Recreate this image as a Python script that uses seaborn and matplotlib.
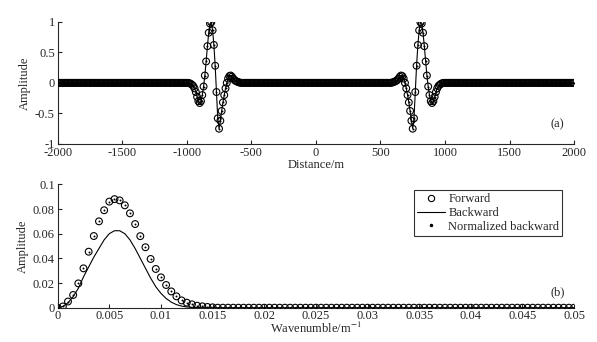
import numpy as np
import pandas as pd
import matplotlib
matplotlib.use("Agg")
import matplotlib.pyplot as plt
import seaborn as sns
from matplotlib.lines import Line2D

# (a) wavelet in the distance domain, sampled every 10 m
distance = np.arange(-2000, 2001, 10)
pulse_offsets = [590, 600, 610, 620, 630, 640, 650, 660, 670, 680, 690, 700,
                 710, 720, 730, 740, 750, 760, 770, 780, 790, 800, 810, 820,
                 830, 840, 850, 860, 870, 880, 890, 900, 910, 920, 930, 940,
                 950, 960, 970, 980]
pulse_values = [0.005, 0.01, 0.02, 0.03, 0.045, 0.07, 0.10, 0.12, 0.11, 0.07,
                0.0, -0.09, -0.20, -0.32, -0.46, -0.62, -0.75, -0.58, -0.15,
                0.28, 0.62, 0.86, 0.99, 0.97, 0.82, 0.60, 0.35, 0.12, -0.06,
                -0.20, -0.30, -0.33, -0.30, -0.23, -0.15, -0.09, -0.05, -0.03,
                -0.015, -0.005]
# left pulse is the mirror image of the right one
left_offsets = [-d for d in pulse_offsets]

# (b) spectra, sampled every 0.0005 1/m
wavenumber = np.round(np.arange(0, 0.05001, 0.0005), 4)
forward_amp = [0.0, 0.001, 0.005, 0.0103, 0.0197, 0.0319, 0.0454, 0.0581,
               0.070, 0.079, 0.086, 0.088, 0.087, 0.083, 0.0765, 0.0678,
               0.058, 0.049, 0.0395, 0.0314, 0.0246, 0.0184, 0.0132, 0.0092,
               0.0059, 0.0041, 0.0027, 0.0016, 0.0011, 0.0006, 0.0003]
backward_amp = [0.0, 0.001, 0.004, 0.009, 0.0157, 0.025, 0.033, 0.041,
                0.048, 0.055, 0.060, 0.0624, 0.0624, 0.060, 0.055, 0.048,
                0.040, 0.032, 0.024, 0.017, 0.0116, 0.0075, 0.0045, 0.0025,
                0.0013, 0.0006, 0.0003, 0.0001, 0.0, 0.0, 0.0]

amp = np.zeros(len(distance))
for d, v in zip(pulse_offsets, pulse_values):
    amp[distance == d] = v
for d, v in zip(left_offsets, pulse_values):
    amp[distance == d] = v
top = pd.DataFrame({"Distance": distance, "Amplitude": amp})

n_pad = len(wavenumber) - len(forward_amp)
bottom = pd.DataFrame({"Wavenumber": wavenumber,
                       "Forward": forward_amp + [0.0] * n_pad,
                       "Backward": backward_amp + [0.0] * n_pad})

sns.set_style("ticks")
plt.rcParams["font.family"] = ["Liberation Serif", "DejaVu Serif"]
plt.rcParams["mathtext.fontset"] = "stix"
plt.rcParams["xtick.direction"] = "in"
plt.rcParams["ytick.direction"] = "in"
plt.rcParams["axes.linewidth"] = 0.8
FS = 9

fig = plt.figure(figsize=(5.97, 3.42), dpi=100)
ax1 = fig.add_axes([0.0966, 0.579, 0.865, 0.3575])
ax2 = fig.add_axes([0.0966, 0.1003, 0.865, 0.3607])

# panel (a)
sns.lineplot(data=top, x="Distance", y="Amplitude", ax=ax1, color="k", lw=0.8)
sns.scatterplot(data=top, x="Distance", y="Amplitude", ax=ax1, s=24,
                facecolors="none", edgecolor="k", linewidth=0.8, zorder=3)
sns.scatterplot(data=top, x="Distance", y="Amplitude", ax=ax1, s=2,
                color="k", linewidth=0, zorder=4)
ax1.set_xlim(-2000, 2000)
ax1.set_ylim(-1, 1)
xt1 = [-2000, -1500, -1000, -500, 0, 500, 1000, 1500, 2000]
ax1.set_xticks(xt1)
ax1.set_xticklabels([str(v) for v in xt1], fontsize=FS)
ax1.set_yticks([-1, -0.5, 0, 0.5, 1])
ax1.set_yticklabels(["-1", "-0.5", "0", "0.5", "1"], fontsize=FS)
ax1.set_xlabel("Distance/m", fontsize=FS, labelpad=0)
ax1.set_ylabel("Amplitude", fontsize=FS, labelpad=3)
ax1.text(0.955, 0.14, "(a)", transform=ax1.transAxes, fontsize=FS)

# panel (b)
sns.scatterplot(data=bottom, x="Wavenumber", y="Forward", ax=ax2, s=24,
                facecolors="none", edgecolor="k", linewidth=0.8, zorder=3)
sns.lineplot(data=bottom, x="Wavenumber", y="Backward", ax=ax2, color="k", lw=0.8)
sns.scatterplot(data=bottom, x="Wavenumber", y="Forward", ax=ax2, s=2,
                color="k", linewidth=0, zorder=4)
ax2.set_xlim(0, 0.05)
ax2.set_ylim(0, 0.1)
xt2 = [0, 0.005, 0.01, 0.015, 0.02, 0.025, 0.03, 0.035, 0.04, 0.045, 0.05]
ax2.set_xticks(xt2)
ax2.set_xticklabels([f"{v:g}" for v in xt2], fontsize=FS)
yt2 = [0, 0.02, 0.04, 0.06, 0.08, 0.1]
ax2.set_yticks(yt2)
ax2.set_yticklabels([f"{v:g}" for v in yt2], fontsize=FS)
ax2.set_xlabel("Wavenumble/m$^{-1}$", fontsize=FS, labelpad=-1)
ax2.set_ylabel("Amplitude", fontsize=FS, labelpad=3)
ax2.text(0.955, 0.1, "(b)", transform=ax2.transAxes, fontsize=FS)

handles = [
    Line2D([], [], ls="", marker="o", mfc="none", mec="k", ms=4.5, mew=0.8),
    Line2D([], [], color="k", lw=0.8),
    Line2D([], [], ls="", marker="o", color="k", ms=1.5),
]
leg = ax2.legend(handles, ["Forward", "Backward", "Normalized backward"],
                 loc="upper left", bbox_to_anchor=(0.69, 0.955), fontsize=FS,
                 frameon=True, fancybox=False, handlelength=2.2,
                 handletextpad=0.3, labelspacing=0.15, borderpad=0.25,
                 borderaxespad=0)
leg.get_frame().set_edgecolor("k")
leg.get_frame().set_linewidth(0.8)

for ax in (ax1, ax2):
    sns.despine(ax=ax)
    ax.tick_params(length=3, width=0.8, pad=2)

fig.savefig("out.png", dpi=100)
